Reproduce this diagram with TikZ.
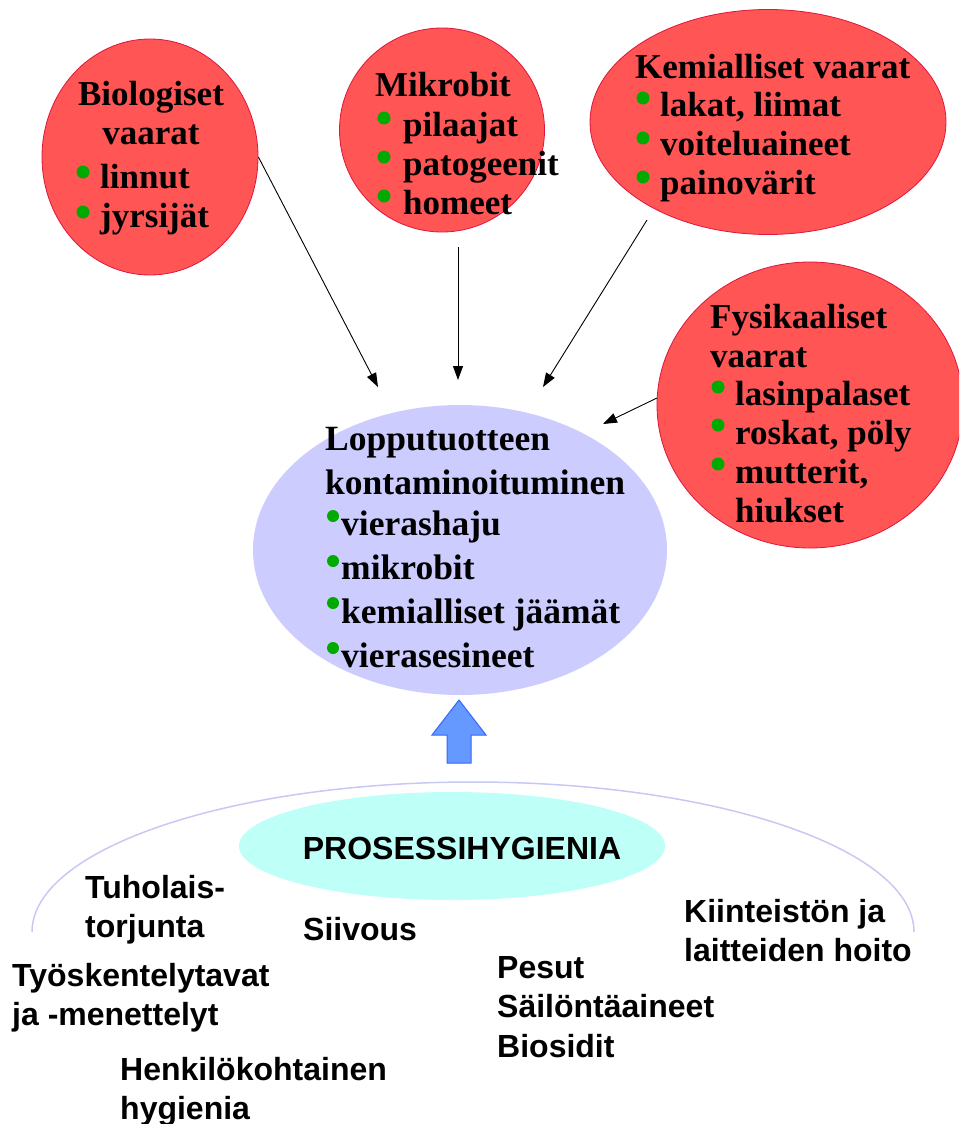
\documentclass[tikz,border=0pt]{standalone}
\usepackage{fontspec}
\setmainfont{Liberation Serif}
\newfontfamily\labelsans{Liberation Sans}
\usetikzlibrary{shapes.geometric,arrows.meta}

\definecolor{hazardred}{RGB}{255,85,85}
\definecolor{hazardedge}{RGB}{225,20,60}
\definecolor{productlilac}{RGB}{204,204,255}
\definecolor{hygienecyan}{RGB}{190,255,248}
\definecolor{arcline}{RGB}{200,200,245}
\definecolor{bulletgreen}{RGB}{0,170,0}
\definecolor{blockfill}{RGB}{102,153,255}
\definecolor{blockedge}{RGB}{51,102,255}

% multi-line nodes are placed by the baseline of their last line
\tikzset{
  hazard/.style={ellipse, draw=hazardedge, line width=0.8pt, fill=hazardred, inner sep=0pt},
  product/.style={ellipse, fill=productlilac, inner sep=0pt},
  hygiene/.style={ellipse, fill=hygienecyan, inner sep=0pt},
  serif/.style={inner sep=0pt, align=left, anchor=base west,
    font=\fontsize{35}{39}\selectfont\bfseries},
  serifbig/.style={serif, font=\fontsize{35.5}{44}\selectfont\bfseries},
  sanslabel/.style={inner sep=0pt, align=left, anchor=base west,
    font=\fontsize{32}{39.5}\selectfont\labelsans\bfseries},
  bullet/.style={fill=bulletgreen},
  link/.style={line width=0.9pt, -{Triangle[length=14pt,width=10pt]}},
}

\begin{document}
\begin{tikzpicture}[x=1pt,y=-1pt]
\useasboundingbox (0,0) rectangle (959,1124);
\clip (0,0) rectangle (959,1124);

% central product ellipse
\node[product, minimum width=414pt, minimum height=290pt] (prod) at (460,550) {};
\node[serifbig] (prodtitle) at (325,494) {Lopputuotteen\\kontaminoituminen};
\node[serifbig] (proditems) at (341,667) {vierashaju\\mikrobit\\kemialliset jäämät\\vierasesineet};
\foreach \y in {516,561,603,648} \fill[bullet] (333,\y) circle (6pt);

% hazard ellipses
\node[hazard, minimum width=216pt, minimum height=236pt] (bio) at (150,157) {};
\node[serif, align=center, anchor=base] (biotitle) at (151,144) {Biologiset\\vaarat};
\node[serif] (bioitems) at (100,227) {linnut\\jyrsijät};
\foreach \y in {172,212} \fill[bullet] (83,\y) circle (6.5pt);

\node[hazard, minimum width=205pt, minimum height=204pt] (mik) at (442,130) {};
\node[serif] (miktitle) at (375,96) {Mikrobit};
\node[serif] (mikitems) at (403,214) {pilaajat\\patogeenit\\homeet};
\foreach \y in {118,157,196} \fill[bullet] (384,\y) circle (6.5pt);

\node[hazard, minimum width=356pt, minimum height=225pt] (kem) at (768,122) {};
\node[serif] (kemtitle) at (635,78) {Kemialliset vaarat};
\node[serif] (kemitems) at (660,194) {lakat, liimat\\voiteluaineet\\painovärit};
\foreach \y in {98,138,177} \fill[bullet] (643,\y) circle (6.5pt);

\node[hazard, minimum width=306pt, minimum height=286pt] (fys) at (810,405) {};
\node[serif] (fystitle) at (710,367) {Fysikaaliset\\vaarat};
\node[serif] (fysitems) at (735,522) {lasinpalaset\\roskat, pöly\\mutterit,\\hiukset};
\foreach \y in {387,425,464} \fill[bullet] (718,\y) circle (6.5pt);

% hazard arrows into the product
\coordinate (bioTip) at (378,387);
\coordinate (mikOut) at (458,247);
\coordinate (mikTip) at (458,380);
\coordinate (kemOut) at (647,220);
\coordinate (kemTip) at (543,387);
\coordinate (fysOut) at (657,398);
\coordinate (fysTip) at (603,424);
\draw[link] (bio.east) -- (bioTip);
\draw[link] (mikOut) -- (mikTip);
\draw[link] (kemOut) -- (kemTip);
\draw[link] (fysOut) -- (fysTip);

% block arrow from process hygiene up to the product
\draw[blockedge, fill=blockfill, line width=1pt, line join=miter]
  (459,700) -- (486,735) -- (471,735) -- (471,763) -- (447,763)
  -- (447,735) -- (432,735) -- cycle;

% process hygiene dome
\draw[arcline, line width=1.5pt] (32,932) arc[start angle=180, end angle=360, x radius=441, y radius=150];
\node[hygiene, minimum width=426pt, minimum height=108pt] (hyg) at (452,846) {};
\node[sanslabel, anchor=base] (hygtitle) at (462,859) {PROSESSIHYGIENIA};

\node[sanslabel] (tuho) at (85,937.5) {Tuholais-\\torjunta};
\node[sanslabel] (siiv) at (303,940) {Siivous};
\node[sanslabel] (kiin) at (684,961.5) {Kiinteistön ja\\laitteiden hoito};
\node[sanslabel] (tyos) at (12,1025.5) {Työskentelytavat\\ja -menettelyt};
\node[sanslabel] (pesu) at (497,1057) {Pesut\\Säilöntäaineet\\Biosidit};
\node[sanslabel] (henk) at (120,1119.5) {Henkilökohtainen\\hygienia};
\end{tikzpicture}
\end{document}
